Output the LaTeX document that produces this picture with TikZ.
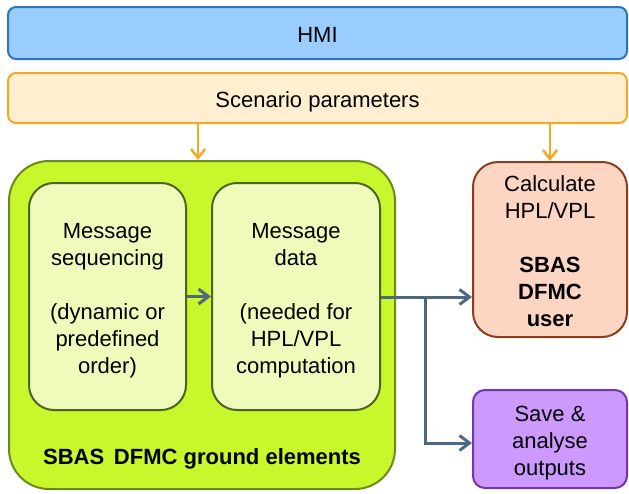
\documentclass[tikz,border=0pt]{standalone}
\usepackage{fontspec}
\setmainfont{Liberation Sans}
\usetikzlibrary{arrows.meta}
\definecolor{hmifill}{HTML}{99CCFF}
\definecolor{hmiline}{HTML}{2E75C0}
\definecolor{parfill}{HTML}{FFEFD0}
\definecolor{parline}{HTML}{F7A823}
\definecolor{gndfill}{HTML}{C8F72C}
\definecolor{gndline}{HTML}{6A8A1E}
\definecolor{msgfill}{HTML}{EEFBBA}
\definecolor{msgline}{HTML}{4E6422}
\definecolor{usrfill}{HTML}{FCD6C2}
\definecolor{usrline}{HTML}{8B3D1C}
\definecolor{outfill}{HTML}{CC99FF}
\definecolor{outline}{HTML}{7434B0}
\definecolor{flow}{HTML}{4E687E}
% centred lines, set a little low in their box
\newcommand\boxtext[1]{\raisebox{-4pt}[\height][\depth]{\begin{tabular}{@{}c@{}}#1\end{tabular}}}
\begin{document}
\begin{tikzpicture}[x=1pt,y=-1pt,
  font=\fontsize{22}{27}\selectfont,
  box/.style={draw,line width=2pt,inner sep=0pt},
  par/.style={draw=parline,line width=2.5pt,-{Straight Barb[length=9pt,width=14pt]}},
  data/.style={draw=flow,line width=3pt,-{Straight Barb[length=10pt,width=15pt]}}]
  \useasboundingbox (0,0) rectangle (629,493);
  % top bars
  \node[box,draw=hmiline,fill=hmifill,rounded corners=8pt,minimum width=619pt,minimum height=52pt]
    (hmi) at (317.5,33) {\boxtext{HMI}};
  \node[box,draw=parline,fill=parfill,rounded corners=8pt,minimum width=619pt,minimum height=50pt]
    (scen) at (317.5,98) {\boxtext{Scenario parameters}};
  % ground segment and its two blocks
  \node[box,draw=gndline,fill=gndfill,rounded corners=40pt,minimum width=386pt,minimum height=328pt]
    (ground) at (202,325) {};
  \node[box,draw=msgline,fill=msgfill,rounded corners=25pt,minimum width=157pt,minimum height=227pt]
    (seq) at (107.5,296.5) {\boxtext{Message\\sequencing\\[27pt](dynamic or\\predefined\\order)}};
  \node[box,draw=msgline,fill=msgfill,rounded corners=25pt,minimum width=168pt,minimum height=227pt]
    (msg) at (296,296.5) {\boxtext{Message\\data\\[27pt](needed for\\HPL/VPL\\computation}};
  \node[font=\fontsize{22}{27}\selectfont\bfseries] (glabel) at (202,459) {SBAS\, DFMC ground elements};
  % user side
  \node[box,draw=usrline,fill=usrfill,rounded corners=25pt,minimum width=154pt,minimum height=175pt]
    (calc) at (550,249.5) {\boxtext{Calculate\\HPL/VPL\\[27pt]\textbf{SBAS}\\\textbf{DFMC}\\\textbf{user}}};
  \node[box,draw=outline,fill=outfill,rounded corners=12pt,minimum width=154pt,minimum height=98pt]
    (save) at (550,439) {\boxtext{Save \&\\analyse\\outputs}};
  % flows
  \draw[par] (scen.south -| 198,0) -- (ground.north -| 198,0);
  \draw[par] (scen.south -| calc.north) -- (calc.north);
  \draw[data] (seq.east) -- (msg.west);
  \coordinate (fork) at (425,297);
  \draw[data] (msg.east |- fork) -- (calc.west |- fork);
  \draw[data] (fork) |- (save.west |- 0,443);
\end{tikzpicture}
\end{document}
